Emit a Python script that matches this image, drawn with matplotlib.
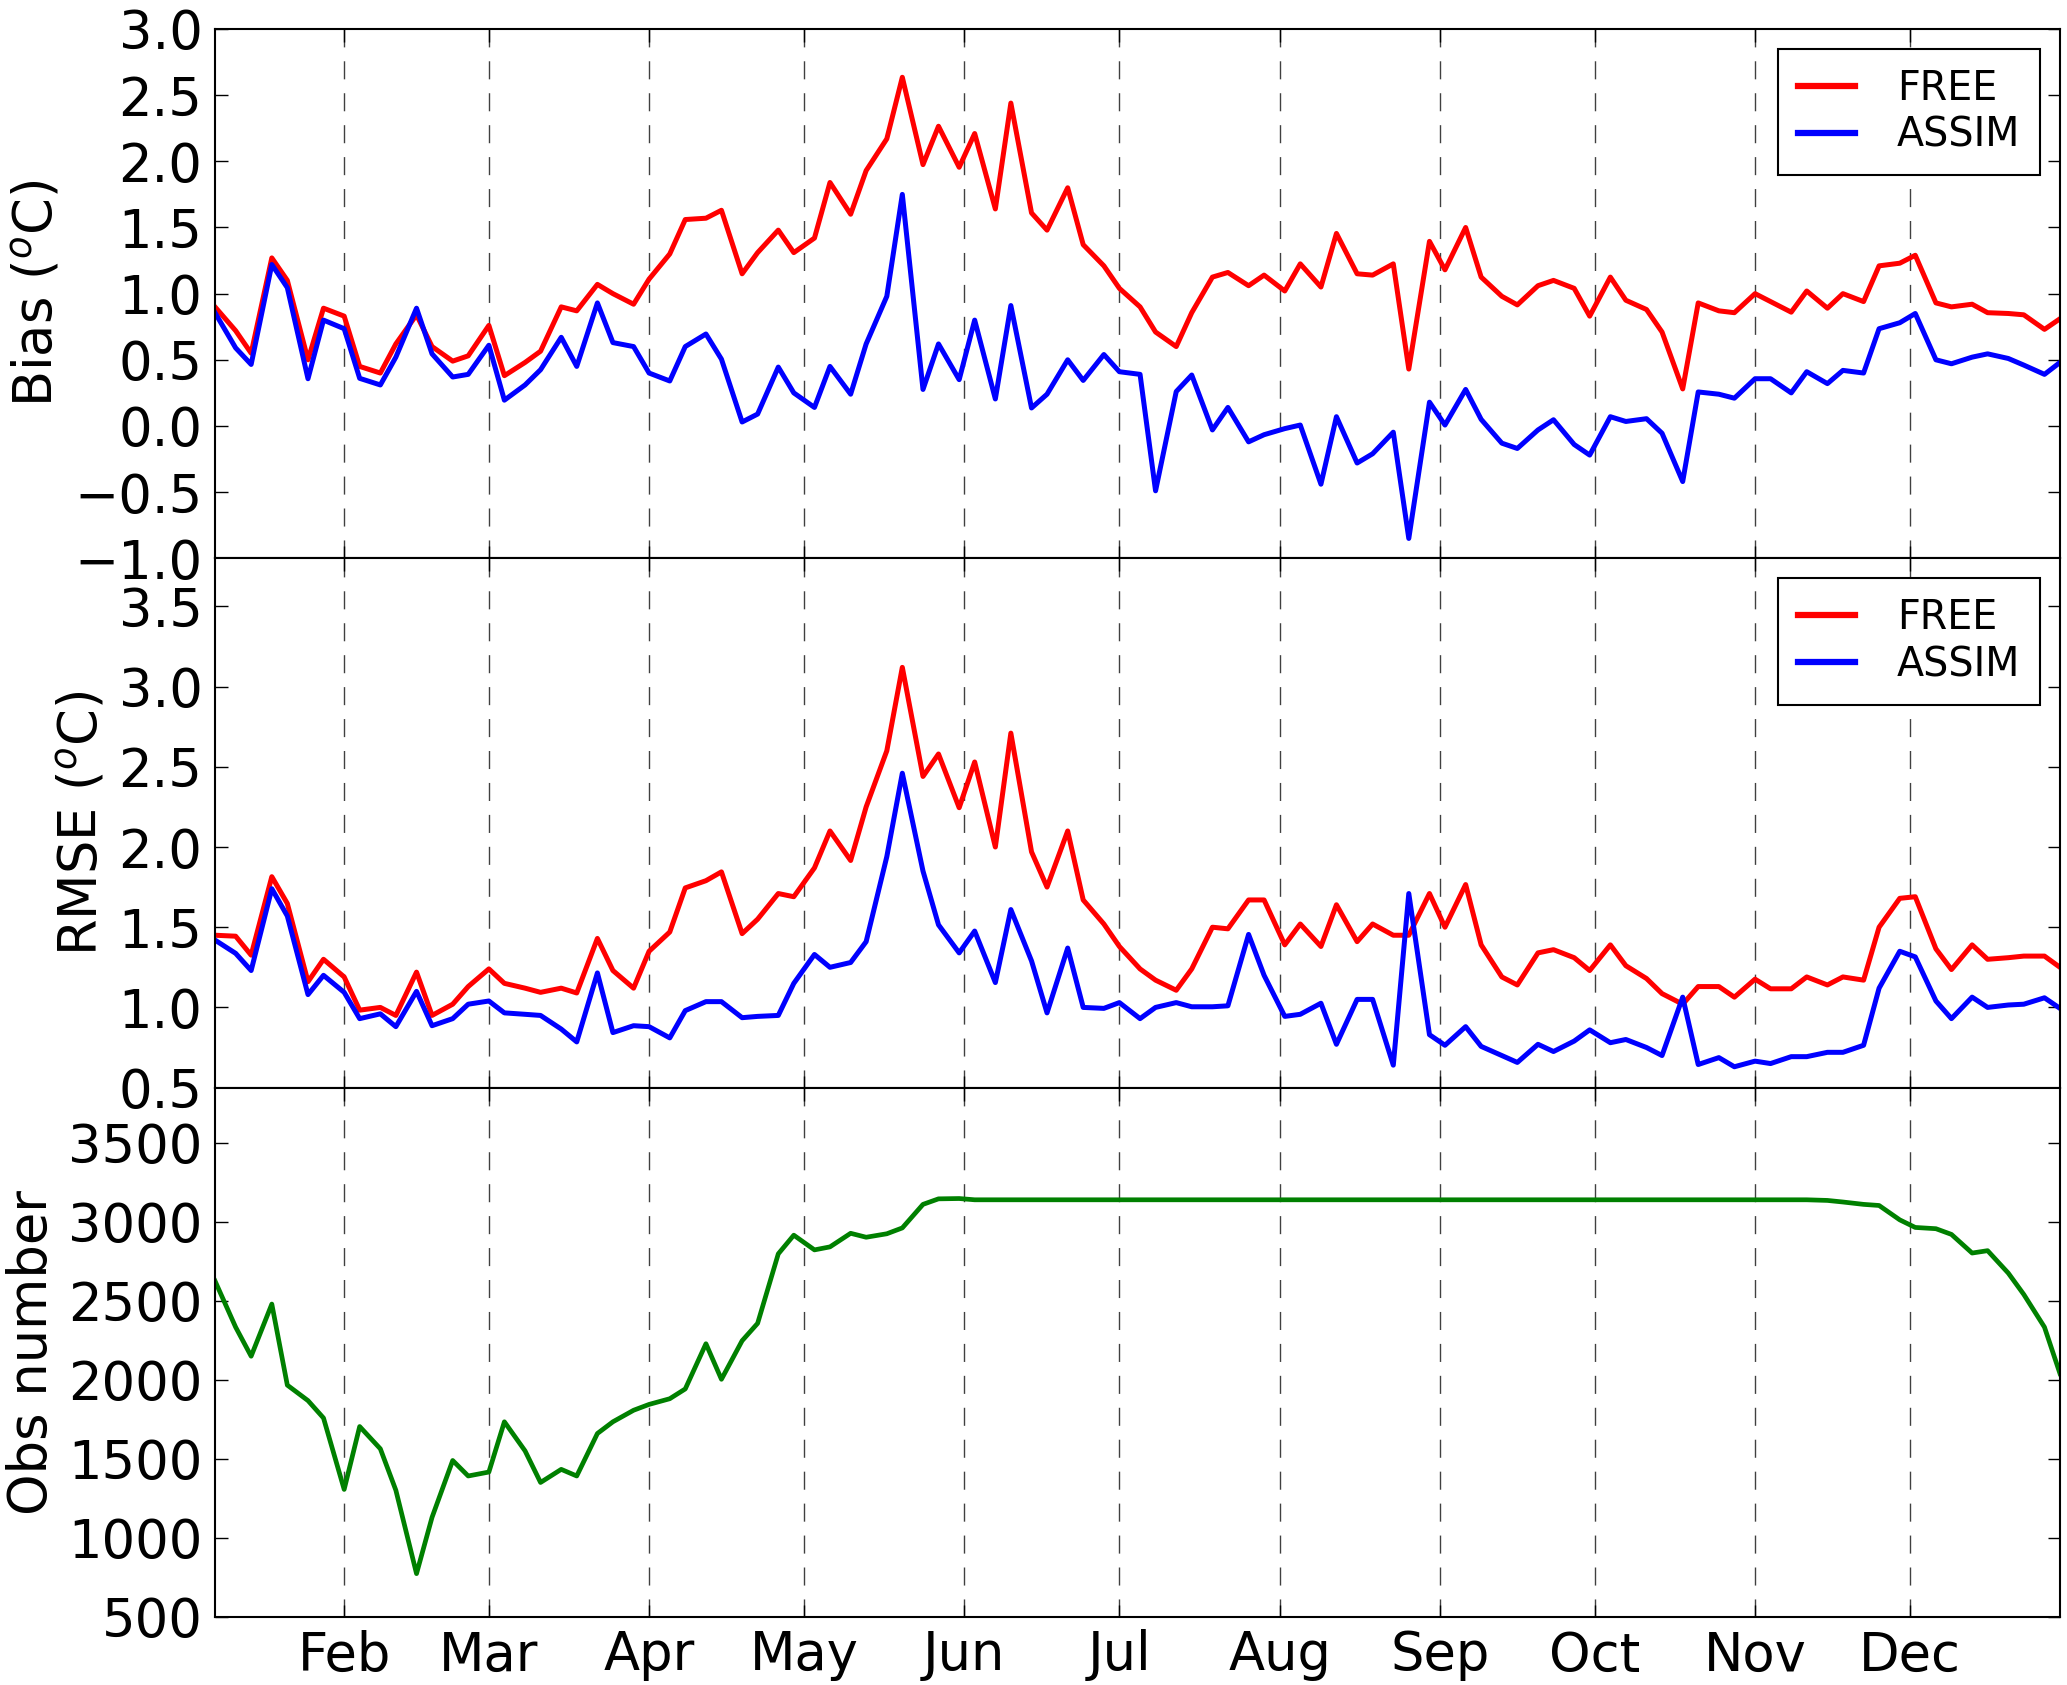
import numpy as np
import pandas as pd
import matplotlib
matplotlib.use("Agg")
import matplotlib.pyplot as plt
import matplotlib.dates as mdates

# ---- data (twice-weekly samples, Wed/Sun) ----
wed = pd.date_range("2015-01-07", "2015-12-30", freq="W-WED")
sun = pd.date_range("2015-01-11", "2015-12-30", freq="W-SUN")
dates = wed.union(sun)

bias_free = [0.90, 0.72, 0.55, 1.27, 1.10, 0.50, 0.89, 0.83, 0.45, 0.40,
             0.62, 0.84, 0.60, 0.49, 0.53, 0.76, 0.38, 0.48, 0.565, 0.90,
             0.87, 1.07, 1.00, 0.92, 1.11, 1.30, 1.56, 1.57, 1.63, 1.15,
             1.31, 1.48, 1.31, 1.42, 1.84, 1.60, 1.93, 2.17, 2.635, 1.975,
             2.265, 1.955, 2.21, 1.64, 2.44, 1.61, 1.48, 1.80, 1.37, 1.21,
             1.04, 0.90, 0.71, 0.60, 0.856, 1.125, 1.16, 1.06, 1.14, 1.02,
             1.225, 1.05, 1.455, 1.15, 1.14, 1.225, 0.43, 1.395, 1.18, 1.50,
             1.125, 0.98, 0.915, 1.06, 1.10, 1.04, 0.83, 1.125, 0.95, 0.88,
             0.71, 0.28, 0.93, 0.87, 0.856, 1.00, 0.94, 0.86, 1.02, 0.89,
             1.00, 0.94, 1.21, 1.23, 1.29, 0.93, 0.90, 0.92, 0.856, 0.85,
             0.84, 0.73, 0.81]

bias_assim = [0.856, 0.59, 0.465, 1.22, 1.045, 0.357, 0.80, 0.735, 0.36, 0.31,
              0.52, 0.89, 0.545, 0.37, 0.39, 0.61, 0.195, 0.31, 0.425, 0.67,
              0.45, 0.93, 0.63, 0.60, 0.40, 0.34, 0.60, 0.695, 0.505, 0.03,
              0.09, 0.445, 0.25, 0.14, 0.45, 0.24, 0.62, 0.98, 1.75, 0.276,
              0.62, 0.35, 0.80, 0.204, 0.91, 0.136, 0.24, 0.50, 0.344, 0.54,
              0.41, 0.39, -0.49, 0.26, 0.385, -0.03, 0.14, -0.12, -0.066, -0.02,
              0.007, -0.44, 0.07, -0.28, -0.21, -0.047, -0.85, 0.18, 0.007, 0.276,
              0.05, -0.13, -0.17, -0.03, 0.047, -0.14, -0.22, 0.07, 0.034, 0.055,
              -0.055, -0.42, 0.257, 0.24, 0.21, 0.357, 0.357, 0.25, 0.41, 0.32,
              0.42, 0.40, 0.735, 0.78, 0.85, 0.50, 0.47, 0.52, 0.545, 0.51,
              0.46, 0.39, 0.48]

rmse_free = [1.45, 1.444, 1.326, 1.815, 1.648, 1.16, 1.30, 1.19, 0.983, 1.00,
             0.95, 1.22, 0.95, 1.02, 1.13, 1.24, 1.15, 1.12, 1.094, 1.12,
             1.09, 1.43, 1.23, 1.12, 1.35, 1.47, 1.745, 1.79, 1.845, 1.46,
             1.55, 1.71, 1.69, 1.87, 2.10, 1.916, 2.25, 2.60, 3.12, 2.44,
             2.58, 2.245, 2.53, 2.00, 2.71, 1.97, 1.75, 2.10, 1.67, 1.52,
             1.38, 1.24, 1.17, 1.107, 1.24, 1.50, 1.49, 1.67, 1.67, 1.39,
             1.52, 1.38, 1.64, 1.41, 1.52, 1.45, 1.45, 1.71, 1.50, 1.766,
             1.39, 1.19, 1.14, 1.34, 1.36, 1.31, 1.23, 1.39, 1.26, 1.18,
             1.086, 1.02, 1.13, 1.13, 1.064, 1.176, 1.116, 1.116, 1.19, 1.14,
             1.19, 1.17, 1.50, 1.68, 1.69, 1.365, 1.236, 1.39, 1.30, 1.31,
             1.32, 1.32, 1.25]

rmse_assim = [1.42, 1.337, 1.23, 1.74, 1.57, 1.08, 1.20, 1.094, 0.93, 0.96,
              0.88, 1.10, 0.886, 0.93, 1.02, 1.04, 0.966, 0.957, 0.95, 0.865,
              0.785, 1.215, 0.843, 0.886, 0.88, 0.81, 0.98, 1.036, 1.036, 0.936,
              0.944, 0.95, 1.15, 1.33, 1.25, 1.28, 1.41, 1.94, 2.46, 1.85,
              1.515, 1.34, 1.476, 1.155, 1.61, 1.29, 0.966, 1.37, 1.00, 0.994,
              1.03, 0.93, 1.00, 1.03, 1.004, 1.004, 1.01, 1.455, 1.20, 0.944,
              0.957, 1.026, 0.77, 1.05, 1.05, 0.64, 1.71, 0.83, 0.764, 0.88,
              0.757, 0.70, 0.657, 0.77, 0.725, 0.79, 0.86, 0.78, 0.80, 0.75,
              0.70, 1.064, 0.644, 0.687, 0.63, 0.665, 0.65, 0.693, 0.693, 0.72,
              0.72, 0.764, 1.12, 1.35, 1.315, 1.04, 0.93, 1.064, 1.00, 1.015,
              1.02, 1.06, 0.994]

obs_number = [2627, 2334, 2150, 2480, 1967, 1869, 1759, 1307, 1705, 1564,
              1302, 774, 1130, 1490, 1392, 1417, 1735, 1551, 1351, 1434,
              1392, 1661, 1735, 1808, 1845, 1881, 1943, 2229, 2004, 2248,
              2358, 2798, 2916, 2823, 2842, 2928, 2903, 2925, 2962, 3111,
              3146, 3148, 3140, 3140, 3140, 3140, 3140, 3140, 3140, 3140,
              3140, 3140, 3140, 3140, 3140, 3140, 3140, 3140, 3140, 3140,
              3140, 3140, 3140, 3140, 3140, 3140, 3140, 3140, 3140, 3140,
              3140, 3140, 3140, 3140, 3140, 3140, 3140, 3140, 3140, 3140,
              3140, 3140, 3140, 3140, 3140, 3140, 3140, 3140, 3140, 3136,
              3126, 3111, 3104, 3013, 2965, 2957, 2921, 2803, 2818, 2676,
              2541, 2334, 2040]

series_labels = ["FREE", "ASSIM"]
ylabels = ["Bias ($^o$C)", "RMSE ($^o$C)", "Obs number"]

# ---- figure ----
plt.rcParams["font.family"] = ["DejaVu Sans"]
FS = 38
fig, axes = plt.subplots(3, 1, sharex=True, figsize=(20.67, 16.85), dpi=100)
fig.subplots_adjust(left=0.104, right=0.9966, top=0.9828, bottom=0.0404, hspace=0)

LW = 3.6
ax1, ax2, ax3 = axes
ax1.plot(dates, bias_free, color="#ff0000", lw=LW, label=series_labels[0])
ax1.plot(dates, bias_assim, color="#0000ff", lw=LW, label=series_labels[1])
ax2.plot(dates, rmse_free, color="#ff0000", lw=LW, label=series_labels[0])
ax2.plot(dates, rmse_assim, color="#0000ff", lw=LW, label=series_labels[1])
ax3.plot(dates, obs_number, color="#008000", lw=3.4)

ax1.set_ylim(-1.0, 3.0)
ax1.set_yticks(np.arange(-1.0, 3.01, 0.5))
ax2.set_ylim(0.5, 3.8)
ax2.set_yticks(np.arange(0.5, 3.51, 0.5))
ax3.set_ylim(500, 3850)
ax3.set_yticks(np.arange(500, 3501, 500))

ax3.set_xlim(dates[0], dates[-1])
ax3.xaxis.set_major_locator(mdates.MonthLocator())
ax3.xaxis.set_major_formatter(mdates.DateFormatter("%b"))

for ax, yl in zip(axes, ylabels):
    ax.set_ylabel(yl, fontsize=FS, labelpad=7)
    ax.tick_params(axis="both", which="major", direction="in", top=True, right=True,
                   length=9, width=1.0, labelsize=FS, pad=9)
    ax.xaxis.grid(True, linestyle=(0, (13, 10)), color="k", linewidth=1.0, alpha=0.75)
    for sp in ax.spines.values():
        sp.set_linewidth(1.5)

for ax in (ax1, ax2):
    leg = ax.legend(loc="upper right", fontsize=28.5, fancybox=False, framealpha=1,
                    edgecolor="k", handlelength=1.45, handletextpad=1.05,
                    borderpad=0.5, labelspacing=0.18, borderaxespad=0.5)
    leg.get_frame().set_linewidth(1.5)
    for line in leg.get_lines():
        line.set_linewidth(4.5)

fig.savefig("out.png", dpi=100)
